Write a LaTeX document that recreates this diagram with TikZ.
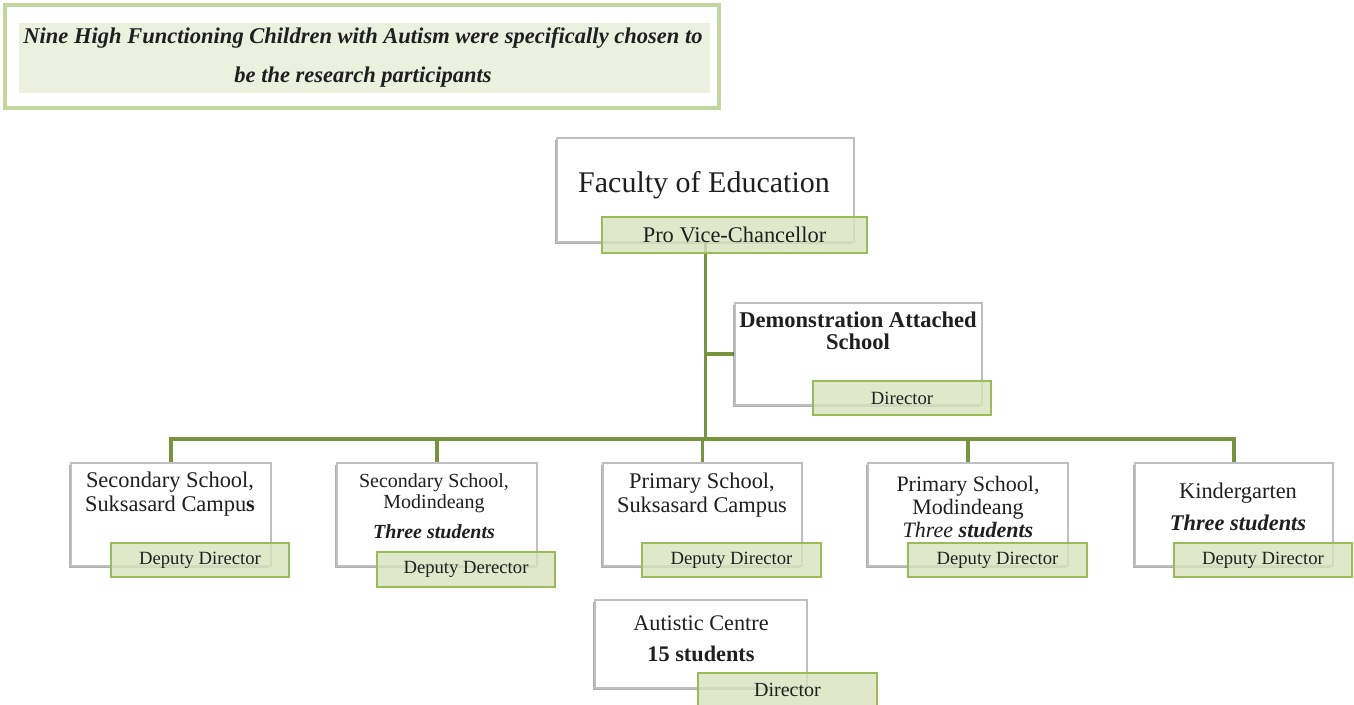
\documentclass[tikz,border=0pt]{standalone}
\usepackage{fontspec}
\setmainfont{Liberation Serif}
\usetikzlibrary{shadows}
\definecolor{connGreen}{HTML}{77933C}
\definecolor{lblBorder}{HTML}{9BBB59}
\definecolor{lblFill}{HTML}{D7E4BD}
\definecolor{titleBorder}{HTML}{C3D69B}
\definecolor{titleFill}{HTML}{EBF1DE}
\definecolor{boxBorder}{HTML}{BFBFBF}
\pgfdeclarelayer{bg}
\pgfsetlayers{bg,main}

\begin{document}
\begin{tikzpicture}[x=0.75pt,y=-0.75pt,
  wh/.style 2 args={minimum width=#1*0.75pt, minimum height=#2*0.75pt},
  unit/.style={draw=boxBorder, line width=0.8pt, fill=white, inner sep=0pt,
    drop shadow={shadow xshift=-1.2pt, shadow yshift=-1.6pt, opacity=0.45, fill=black!70}},
  tag/.style={draw=lblBorder, line width=1pt, fill=lblFill, fill opacity=0.8,
    text opacity=1, inner sep=0pt, text=black!88},
  conn/.style={draw=connGreen, line width=2.6pt},
  txt/.style={align=center, anchor=base, inner sep=0pt, text=black!88},
  fs/.style 2 args={font=\fontsize{#1}{#2}\selectfont},
]
\useasboundingbox (0,0) rectangle (1354,704);

% heading panel (text nodes are placed by the baseline of their last line)
\node[draw=titleBorder, line width=3pt, fill=white, wh={714}{103}] (title) at (362,56.5) {};
\node[fill=titleFill, inner sep=0pt, wh={691}{70}] (titlefill) at (364.5,58) {};
\node[txt, fs={16.9}{29.25}] (titletext) at (363,82)
  {\textbf{\textit{Nine High Functioning Children with Autism were specifically chosen to}}\\
   \textbf{\textit{be the research participants}}};

% units
\node[unit, wh={297}{104}] (fac)  at (705.5,190) {};
\node[unit, wh={247}{102}] (demo) at (858.5,354) {};
\node[unit, wh={200}{103}] (s1) at (171,514.5) {};
\node[unit, wh={200}{103}] (s2) at (437,514.5) {};
\node[unit, wh={199}{103}] (s3) at (702.5,514.5) {};
\node[unit, wh={200}{103}] (s4) at (968,514.5) {};
\node[unit, wh={198}{103}] (s5) at (1234,514.5) {};
\node[unit, wh={212}{88}]  (aut) at (701,644) {};

% unit names
\node[txt, fs={22.5}{26}] (fact) at (704,192) {Faculty of Education};
\node[txt, fs={16.9}{16.5}] (demot) at (858,349) {\textbf{Demonstration Attached}\\\textbf{School}};
\node[txt, fs={16.8}{18}] (s1t) at (170,511) {Secondary School,\\Suksasard Campu\textbf{s}};
\node[txt, fs={15}{15.75}] (s2t) at (434,538) {Secondary School,\\Modindeang\\[6.75pt]\textbf{\textit{Three students}}};
\node[txt, fs={16.8}{18}] (s3t) at (702,512) {Primary School,\\Suksasard Campus};
\node[txt, fs={16.5}{17.25}] (s4t) at (968,537) {Primary School,\\Modindeang\\\textit{Three \textbf{students}}};
\node[txt, fs={16.8}{24}] (s5t) at (1238,530) {Kindergarten\\\textbf{\textit{Three students}}};
\node[txt, fs={16.7}{23.25}] (autt) at (701,661) {Autistic Centre\\\textbf{15 students}};

% head-of-unit tags
\node[tag, wh={265}{36}, fs={16.8}{18}] (pvc) at (734.5,235) {Pro Vice-Chancellor};
\node[tag, wh={178}{34}, fs={14}{16}] (demodir) at (902,398) {Director};
\node[tag, wh={178}{34}, fs={14}{16}] (l1) at (200,560) {Deputy Director};
\node[tag, wh={178}{35}, fs={14}{16}] (l2) at (466,569.5) {Deputy Derector};
\node[tag, wh={179}{34}, fs={14}{16}] (l3) at (731.5,560) {Deputy Director};
\node[tag, wh={179}{34}, fs={14}{16}] (l4) at (997.5,560) {Deputy Director};
\node[tag, wh={178}{34}, fs={14}{16}] (l5) at (1263,560) {Deputy Director};
\node[tag, wh={179}{33}, fs={15}{17}] (autdir) at (787.5,689.5) {Director};

% connectors
\coordinate (bus) at (704,439);
\begin{pgfonlayer}{bg}
\draw[conn] (fac.south) -- (fac.south |- bus);
\draw[conn] (demo.west) -- (demo.west -| fac.south);
\draw[conn, line width=3.6pt] (demo.west) -- ++(-15,0);
\draw[conn] (s1.north) -- (s1.north |- bus) -- (s5.north |- bus) -- (s5.north);
\foreach \n in {s2,s3,s4}
  \draw[conn] (\n.north) -- (\n.north |- bus);
\end{pgfonlayer}
\end{tikzpicture}
\end{document}
